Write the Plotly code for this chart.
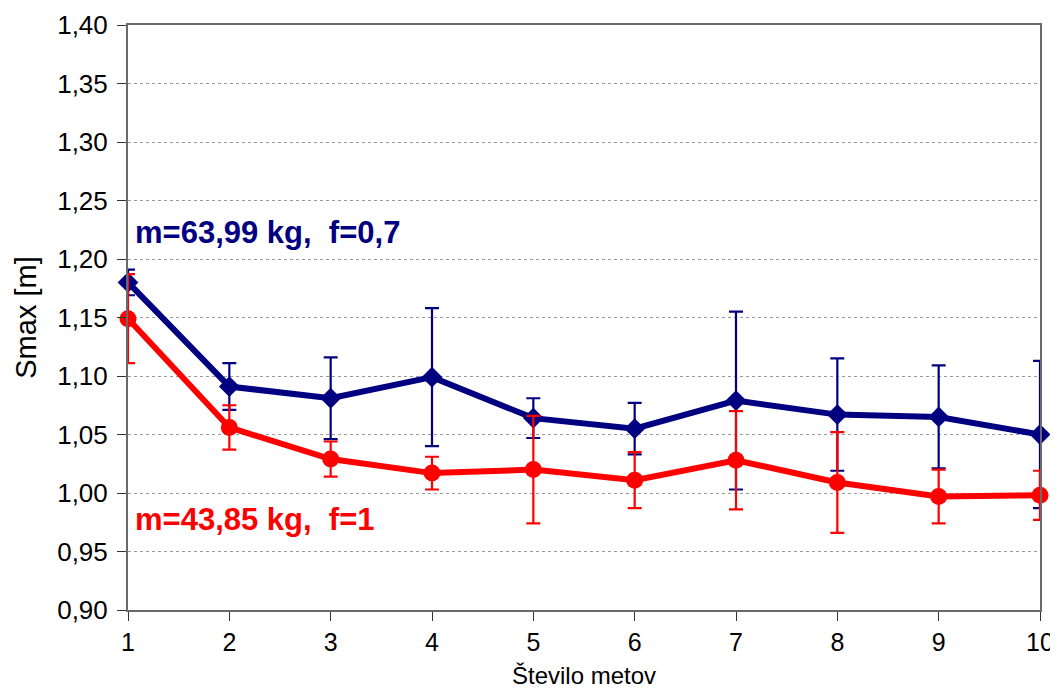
import plotly.graph_objects as go

x_vals = [1, 2, 3, 4, 5, 6, 7, 8, 9, 10]

blue_y = [1.180, 1.091, 1.081, 1.099, 1.064, 1.055, 1.079, 1.067, 1.065, 1.050]
blue_err = [0.011, 0.020, 0.035, 0.059, 0.017, 0.022, 0.076, 0.048, 0.044, 0.063]

red_y = [1.149, 1.056, 1.029, 1.017, 1.020, 1.011, 1.028, 1.009, 0.997, 0.998]
red_err = [0.038, 0.019, 0.015, 0.014, 0.046, 0.024, 0.042, 0.043, 0.023, 0.021]

blue_label = "m=63,99 kg,  f=0,7"
red_label = "m=43,85 kg,  f=1"
x_title = "Število metov"
y_title = "Smax [m]"

y_ticks = [0.90, 0.95, 1.00, 1.05, 1.10, 1.15, 1.20, 1.25, 1.30, 1.35, 1.40]

BLUE = "#000080"
RED = "#FF0000"
FONT = "Liberation Sans, Arial, sans-serif"

fig = go.Figure()

fig.add_trace(go.Scatter(
    x=x_vals, y=blue_y, mode="lines+markers",
    line=dict(color=BLUE, width=6),
    marker=dict(symbol="diamond", size=16, color=BLUE),
    error_y=dict(type="data", array=blue_err, visible=True,
                 color=BLUE, thickness=2.2, width=7),
    cliponaxis=False, showlegend=False,
))
fig.add_trace(go.Scatter(
    x=x_vals, y=red_y, mode="lines+markers",
    line=dict(color=RED, width=6),
    marker=dict(symbol="circle", size=17, color=RED),
    error_y=dict(type="data", array=red_err, visible=True,
                 color=RED, thickness=2.2, width=7),
    cliponaxis=False, showlegend=False,
))

fig.add_annotation(x=0.006, xref="paper", xanchor="left", y=1.223, yref="y",
                   text="<b>" + blue_label + "</b>", showarrow=False,
                   font=dict(family=FONT, size=31, color=BLUE))
fig.add_annotation(x=0.006, xref="paper", xanchor="left", y=0.977, yref="y",
                   text="<b>" + red_label + "</b>", showarrow=False,
                   font=dict(family=FONT, size=31, color=RED))
fig.add_annotation(x=0.5, xref="paper", xanchor="center", y=0, yref="paper",
                   yanchor="top", yshift=-50,
                   text=x_title, showarrow=False,
                   font=dict(family=FONT, size=24, color="black"))

fig.update_layout(
    width=1050, height=680,
    margin=dict(l=120, r=18, t=17, b=78),
    paper_bgcolor="white", plot_bgcolor="white",
    separators=", ",
    font=dict(family=FONT, size=26, color="black"),
)

fig.update_xaxes(
    range=[1, 10], tickvals=x_vals, ticktext=[str(v) for v in x_vals],
    showgrid=False, zeroline=False, automargin=False,
    showline=True, linecolor="#6a6a6a", linewidth=2, mirror=True,
    ticks="outside", ticklen=9, tickcolor="#333333", tickwidth=1,
    ticklabelstandoff=0, ticklabeloverflow="allow",
    tickfont=dict(family=FONT, size=25),
)
fig.update_yaxes(
    range=[0.90, 1.40], tickvals=y_ticks, tickformat=".2f",
    showgrid=True, gridcolor="#9a9a9a", griddash="dot", gridwidth=1,
    zeroline=False, automargin=False,
    showline=True, linecolor="#6a6a6a", linewidth=2, mirror=True,
    ticks="outside", ticklen=9, tickcolor="#333333", tickwidth=1,
    ticklabelstandoff=4,
    tickfont=dict(family=FONT, size=26),
    title=dict(text=y_title, font=dict(family=FONT, size=29), standoff=12),
)

fig.write_html("out.html")
